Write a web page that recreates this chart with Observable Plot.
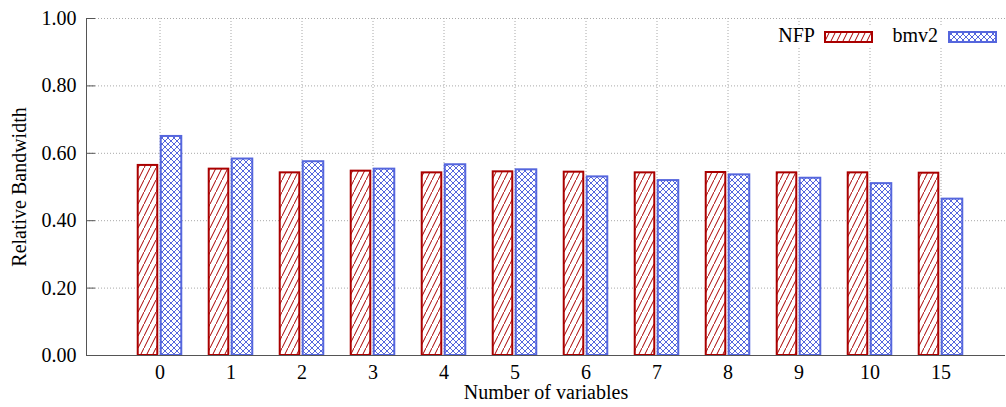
<!DOCTYPE html>
<html><head><meta charset="utf-8">
<script src="https://cdn.jsdelivr.net/npm/d3@7"></script>
<script src="https://cdn.jsdelivr.net/npm/@observablehq/plot@0.6"></script>
<style>
body{margin:0;background:#fff;}
#wrap{position:relative;width:1006px;height:407px;font-family:"Liberation Serif",serif;color:#000;}
#wrap svg.chart{position:absolute;left:0;top:0;}
#wrap svg.chart text{font-family:"Liberation Serif",serif;}
.lg{position:absolute;}
.lgtext{font-size:20px;line-height:22px;white-space:nowrap;}
</style></head><body><div id="wrap"></div>
<script>
const categories = ["0","1","2","3","4","5","6","7","8","9","10","15"];
const nfpValues  = [0.564,0.553,0.542,0.547,0.542,0.545,0.544,0.542,0.543,0.542,0.542,0.541];
const bmv2Values = [0.650,0.583,0.575,0.553,0.566,0.551,0.530,0.519,0.536,0.526,0.510,0.464];
const yTicks = [0, 0.2, 0.4, 0.6, 0.8, 1.0];
const seriesNames = ["NFP", "bmv2"];
const xLabel = "Number of variables";
const yLabel = "Relative Bandwidth";

const RED = "#aa0000", BLUE = "#5566dd";
const nfp = categories.map((c, i) => ({category: c, value: nfpValues[i]}));
const bmv2 = categories.map((c, i) => ({category: c, value: bmv2Values[i]}));

const W = 1006, H = 407, mL = 86, mR = 1, mT = 18, mB = 52;
const step = 71.45, c0 = 157, half = step / 2;
const FS = 20;

const chart = Plot.plot({
  width: W, height: H, marginLeft: mL, marginRight: mR, marginTop: mT, marginBottom: mB,
  style: {fontFamily: "'Liberation Serif', serif", fontSize: FS + "px", background: "#fff", color: "#000", overflow: "visible"},
  x: {type: "band", domain: categories, range: [c0 - half, c0 + step * (categories.length - 0.5)], padding: 0},
  y: {domain: [0, 1]},
  marks: [
    Plot.gridY(yTicks, {stroke: "#a8a8a8", strokeOpacity: 1, strokeDasharray: "1,2"}),
    Plot.gridX(categories, {stroke: "#a8a8a8", strokeOpacity: 1, strokeDasharray: "1,2"}),
    Plot.barY(nfp, {x: "category", y: "value", fill: "url(#hatchRed)", stroke: RED, strokeWidth: 2,
      insetLeft: half - 22, insetRight: half + 2}),
    Plot.barY(bmv2, {x: "category", y: "value", fill: "url(#hatchBlue)", stroke: BLUE, strokeWidth: 2,
      insetLeft: half + 1, insetRight: half - 22}),
    Plot.ruleY([0], {stroke: "#555"}),
    Plot.frame({anchor: "left", stroke: "#555"}),
    Plot.tickY(yTicks, {y: d => d, stroke: "#555", insetRight: W - mL - mR - 9}),
    Plot.axisY(yTicks, {tickSize: 0, tickPadding: 10, tickFormat: d3.format(".2f"), label: null, fontSize: FS}),
    Plot.axisX({tickSize: 0, tickPadding: 9, label: null, fontSize: FS}),
    Plot.text([yLabel], {text: d => d, frameAnchor: "left", textAnchor: "middle", lineAnchor: "middle",
      rotate: -90, dx: -67, fontSize: FS}),
    Plot.text([xLabel], {text: d => d, frameAnchor: "bottom", textAnchor: "middle", lineAnchor: "middle",
      dy: 37, fontSize: FS})
  ]
});
chart.classList.add("chart");
d3.select(chart).insert("defs", ":first-child").html(`
  <pattern id="hatchRed" patternUnits="userSpaceOnUse" width="6" height="12">
    <rect width="6" height="12" fill="#fff"/>
    <path d="M-1,14 L7,-2" stroke="${RED}" stroke-width="1"/>
  </pattern>
  <pattern id="hatchBlue" patternUnits="userSpaceOnUse" width="6" height="6">
    <rect width="6" height="6" fill="#fff"/>
    <path d="M-1,-1 L7,7 M-1,7 L7,-1" stroke="${BLUE}" stroke-width="1"/>
  </pattern>`);
const wrap = document.getElementById("wrap");
wrap.appendChild(chart);

// legend
const lg = d3.select(wrap);
lg.append("div").attr("class", "lg").style("left", "770px").style("top", "27px")
  .style("width", "232px").style("height", "20px").style("background", "#fff");
const items = [
  {name: seriesNames[0], right: 191, sw: 824, pat: "hatchRed", col: RED},
  {name: seriesNames[1], right: 68, sw: 948, pat: "hatchBlue", col: BLUE}
];
items.forEach(it => {
  lg.append("div").attr("class", "lg lgtext").style("right", it.right + "px").style("top", "24px").text(it.name);
  const s = lg.append("svg").attr("class", "lg").attr("width", 49).attr("height", 12)
    .style("left", it.sw + "px").style("top", "31px");
  s.append("rect").attr("x", 1).attr("y", 1).attr("width", 47).attr("height", 10)
    .attr("fill", `url(#${it.pat})`).attr("stroke", it.col).attr("stroke-width", 2);
});
</script></body></html>
